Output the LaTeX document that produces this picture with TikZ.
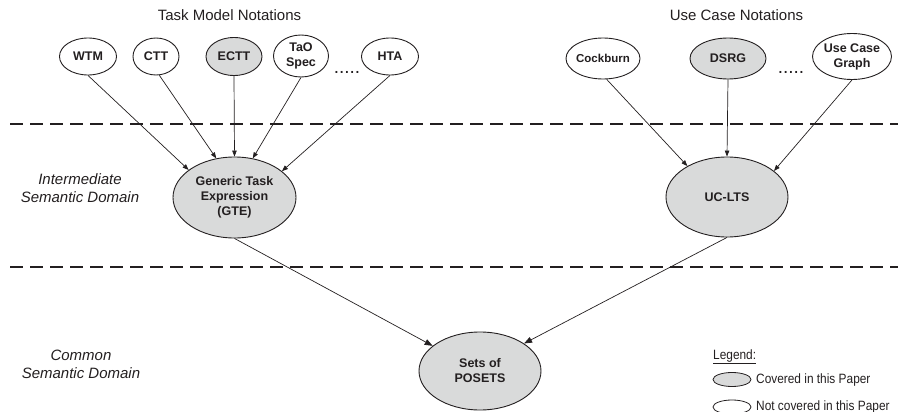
\documentclass[tikz,border=0pt]{standalone}
\usepackage{fontspec}
\setmainfont{Liberation Sans}
\newfontfamily\narrowfont[FakeStretch=0.88]{Liberation Sans}
\usetikzlibrary{shapes.geometric,arrows.meta}
\definecolor{nodegray}{RGB}{217,218,218}
\definecolor{inkc}{RGB}{35,31,32}
\begin{document}
\begin{tikzpicture}[x=1pt,y=-1pt,
  ell/.style={ellipse,draw=inkc,line width=0.9pt,inner xsep=-12pt,inner ysep=-8pt,align=center,
    font=\bfseries\fontsize{12.5}{15}\selectfont,text=inkc},
  cov/.style={ell,fill=nodegray},
  notcov/.style={ell,fill=white},
  conn/.style={draw=inkc,line width=0.7pt,-{Triangle[length=6pt,width=4.5pt]}},
  connbig/.style={draw=inkc,line width=0.7pt,-{Triangle[length=8pt,width=6pt]}},
  dashline/.style={draw=inkc,line width=2.6pt,dash pattern=on 13pt off 7pt},
  titletext/.style={font=\fontsize{15}{18}\selectfont,text=inkc,inner sep=0pt},
  sidetext/.style={font=\itshape\fontsize{15}{18}\selectfont,text=inkc,align=center,inner sep=0pt},
  dotstext/.style={font=\fontsize{19}{19}\selectfont,text=inkc,inner sep=0pt,anchor=base},
  legtext/.style={font=\narrowfont\fontsize{13.5}{16}\selectfont,text=inkc,inner sep=0pt,anchor=west}]
\useasboundingbox (0,0) rectangle (898,412);

% titles
\node[titletext] (ttitle) at (229.5,15) {Task Model Notations};
\node[titletext] (utitle) at (736.5,15) {Use Case Notations};

% dashed separators
\draw[dashline] (10,124) -- (898,124);
\draw[dashline] (10,267) -- (898,267);

% side labels
\node[sidetext] (ilabel) at (80,188) {Intermediate\\Semantic Domain};
\node[sidetext] (clabel) at (81,364) {Common\\Semantic Domain};

% task model notations
\node[notcov,minimum width=57pt,minimum height=37pt] (wtm) at (88,56.5) {WTM};
\node[notcov,minimum width=46pt,minimum height=37pt] (ctt) at (156,56.5) {CTT};
\node[cov,minimum width=56pt,minimum height=38pt] (ectt) at (234,56.5) {ECTT};
\node[notcov,minimum width=55pt,minimum height=42pt] (tao) at (301,56) {TaO\\Spec};
\node[dotstext] (tdots) at (347,74) {.....};
\node[notcov,minimum width=57pt,minimum height=37pt] (hta) at (390,56.5) {HTA};

% use case notations
\node[notcov,minimum width=74pt,minimum height=41pt,font=\bfseries\fontsize{11.5}{14}\selectfont] (cock) at (603,58.5) {Cockburn};
\node[cov,minimum width=76pt,minimum height=41pt] (dsrg) at (728,58.5) {DSRG};
\node[dotstext] (udots) at (791,74) {.....};
\node[notcov,minimum width=79pt,minimum height=46pt] (ucg) at (852,56.5) {Use Case\\Graph};

% intermediate
\node[cov,minimum width=123pt,minimum height=81pt] (gte) at (234.5,197.5) {Generic Task\\Expression\\(GTE)};
\node[cov,minimum width=122pt,minimum height=80pt] (uclts) at (727,197) {UC-LTS};

% common
\node[cov,minimum width=122pt,minimum height=78pt] (posets) at (480,371) {Sets of\\POSETS};

% connectors
\draw[conn] (wtm.south) -- (gte.149);
\draw[conn] (ctt.-80) -- (gte.115);
\draw[conn] (ectt.south) -- (gte.north);
\draw[conn] (tao.south) -- (gte.65);
\draw[conn] (hta.south) -- (gte.29);
\draw[conn] (cock.-80) -- (uclts.142);
\draw[conn] (dsrg.south) -- (uclts.north);
\draw[conn] (ucg.south) -- (uclts.29);
\draw[connbig] (gte.south) -- (posets.152);
\draw[connbig] (uclts.south) -- (posets.32);

% legend
\node[legtext] (legtitle) at (713,357) {\underline{Legend:}};
\node[cov,minimum width=38pt,minimum height=14pt,line width=0.8pt] (legcov) at (732,379.5) {};
\node[legtext] (legcovtext) at (756,380) {Covered in this Paper};
\node[notcov,minimum width=38pt,minimum height=14pt,line width=0.8pt] (legnot) at (732,407) {};
\node[legtext] (legnottext) at (756,407) {Not covered in this Paper};
\end{tikzpicture}
\end{document}
